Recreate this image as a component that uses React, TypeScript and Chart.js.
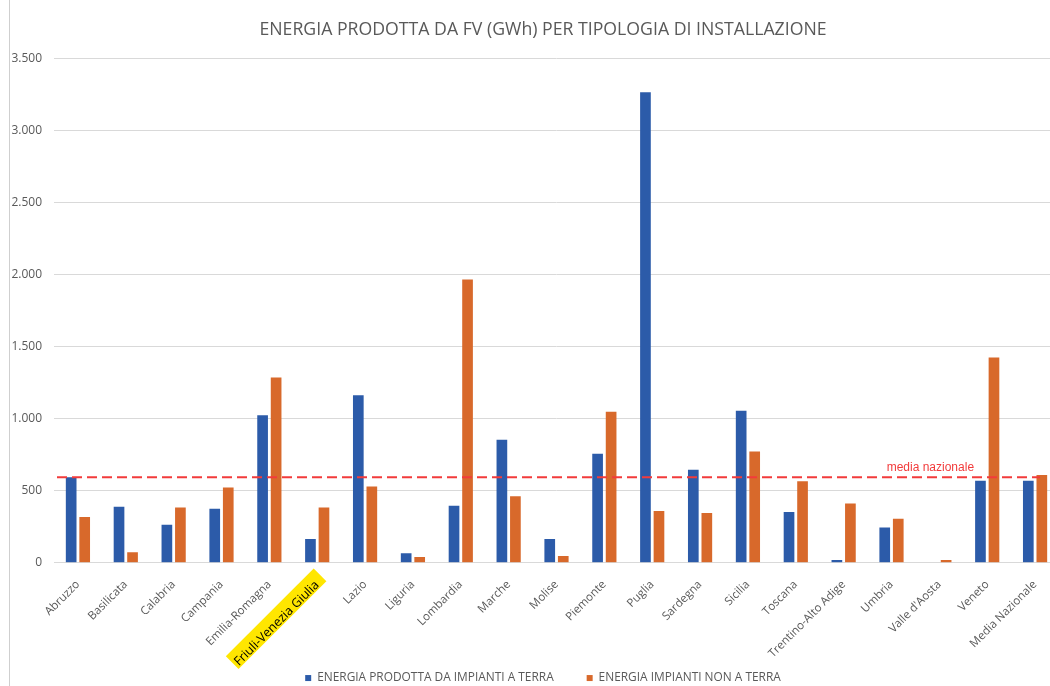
import React, { useEffect, useRef } from "react";
import { Chart, registerables } from "chart.js";

Chart.register(...registerables);

const TITLE = "ENERGIA PRODOTTA DA FV (GWh) PER TIPOLOGIA DI INSTALLAZIONE";
const regions = [
  "Abruzzo", "Basilicata", "Calabria", "Campania", "Emilia-Romagna",
  "Friuli-Venezia Giulia", "Lazio", "Liguria", "Lombardia", "Marche",
  "Molise", "Piemonte", "Puglia", "Sardegna", "Sicilia", "Toscana",
  "Trentino-Alto Adige", "Umbria", "Valle d'Aosta", "Veneto", "Media Nazionale",
];
const groundLabel = "ENERGIA PRODOTTA DA IMPIANTI A TERRA";
const groundValues = [593, 389, 263, 375, 1024, 165, 1163, 65, 396, 854, 165, 756, 3268, 645, 1056, 352, 19, 244, 0, 570, 570];
const nonGroundLabel = "ENERGIA IMPIANTI NON A TERRA";
const nonGroundValues = [317, 72, 384, 523, 1287, 384, 530, 40, 1967, 461, 47, 1049, 359, 345, 773, 565, 412, 305, 19, 1426, 610];
const nationalAverage = 593;
const nationalAverageLabel = "media nazionale";
const highlightedRegion = "Friuli-Venezia Giulia";
const yMax = 3500;
const yStep = 500;

const FONT = "'Open Sans', sans-serif";
const GRAY = "#595959";
const X_PAD = 15;
const CANVAS_H = 694;
const LEGEND_FONT = 11.9;
const LEGEND_PAD = 33;
const PLOT_BOTTOM = 562.7;

const fmt = (v: number) => String(v).replace(/\B(?=(\d{3})+(?!\d))/g, ".");

export default function App() {
  const ref = useRef<HTMLCanvasElement | null>(null);

  useEffect(() => {
    document.body.style.margin = "0";
    const canvas = ref.current!;
    const hlIndex = regions.indexOf(highlightedRegion);

    const highlightPlugin = {
      id: "highlight",
      beforeDraw(chart: any) {
        const x = chart.scales.x;
        const ctx = chart.ctx;
        const px = x.getPixelForTick(hlIndex);
        const py = x.top + X_PAD;
        ctx.save();
        ctx.font = `12.5px ${FONT}`;
        const w = ctx.measureText(highlightedRegion).width;
        ctx.translate(px, py);
        ctx.rotate(-Math.PI / 4);
        ctx.fillStyle = "#ffe600";
        ctx.fillRect(-w - 6, -9, w + 10, 18);
        ctx.restore();
      },
    };

    const avgPlugin = {
      id: "avgLine",
      afterDatasetsDraw(chart: any) {
        const y = chart.scales.y;
        const x = chart.scales.x;
        const ctx = chart.ctx;
        const py = y.getPixelForValue(nationalAverage);
        ctx.save();
        ctx.strokeStyle = "#f23b3b";
        ctx.lineWidth = 2;
        ctx.setLineDash([10, 5]);
        ctx.beginPath();
        ctx.moveTo(chart.chartArea.left + 3, py);
        ctx.lineTo(x.getPixelForTick(regions.length - 1) + 5, py);
        ctx.stroke();
        ctx.setLineDash([]);
        ctx.fillStyle = "#f23b3b";
        ctx.font = "12px 'Liberation Sans', Arial, sans-serif";
        ctx.textAlign = "center";
        ctx.textBaseline = "alphabetic";
        const lx = x.getPixelForTick(regions.length - 3) - 9;
        ctx.fillText(nationalAverageLabel, lx, py - 6);
        ctx.restore();
      },
    };

    const chart = new Chart(canvas, {
      type: "bar",
      data: {
        labels: regions,
        datasets: [
          {
            label: groundLabel,
            data: groundValues,
            backgroundColor: "#2c5ba9",
            categoryPercentage: 0.565,
            barPercentage: 0.79,
          },
          {
            label: nonGroundLabel,
            data: nonGroundValues,
            backgroundColor: "#d8692b",
            categoryPercentage: 0.565,
            barPercentage: 0.79,
          },
        ],
      },
      options: {
        responsive: false,
        animation: false,
        devicePixelRatio: 1,
        layout: { padding: 0 },
        plugins: {
          title: {
            display: true,
            text: TITLE,
            color: GRAY,
            font: { family: FONT, size: 17.7, weight: "normal" },
            padding: { top: 19, bottom: 18.6 },
          },
          legend: {
            position: "bottom",
            labels: {
              color: GRAY,
              font: { family: FONT, size: LEGEND_FONT },
              boxWidth: 6,
              boxHeight: 6,
              padding: LEGEND_PAD,
            },
          },
          tooltip: { enabled: false },
        },
        scales: {
          x: {
            grid: { display: false, drawTicks: false },
            border: { display: true, color: "#d9d9d9" },
            ticks: {
              autoSkip: false,
              maxRotation: 45,
              minRotation: 45,
              padding: X_PAD,
              color: (c: any) => (c.index === hlIndex ? "#000000" : GRAY),
              font: (c: any) => ({ family: FONT, size: c.index === hlIndex ? 12.5 : 11.5 }),
            },
            afterFit: (s: any) => {
              s.height = CANVAS_H - (LEGEND_FONT + LEGEND_PAD + 10) - PLOT_BOTTOM;
              s._computeLabelArea = () => undefined;
            },
          },
          y: {
            min: 0,
            max: yMax,
            grid: { color: "#d9d9d9", drawTicks: false },
            border: { display: false },
            ticks: {
              stepSize: yStep,
              padding: 12,
              color: GRAY,
              font: { family: FONT, size: 12 },
              callback: (v: any) => fmt(Number(v)),
            },
            afterFit: (s: any) => {
              s.width = 44;
            },
          },
          yRight: {
            position: "right",
            display: true,
            grid: { display: false, drawTicks: false },
            border: { display: false },
            ticks: { display: false },
            afterFit: (s: any) => {
              s.width = 17;
            },
          },
        },
      },
      plugins: [highlightPlugin, avgPlugin],
    });
    return () => chart.destroy();
  }, []);

  return (
    <div style={{ position: "fixed", left: 0, top: 0, width: "100vw", height: "100vh", overflow: "hidden", background: "#fff" }}>
      <div style={{ position: "absolute", left: 9, top: 0, width: 1067, height: CANVAS_H, borderLeft: "1px solid #cfcfcf" }}>
        <canvas ref={ref} width={1066} height={CANVAS_H} style={{ display: "block" }} />
      </div>
    </div>
  );
}
